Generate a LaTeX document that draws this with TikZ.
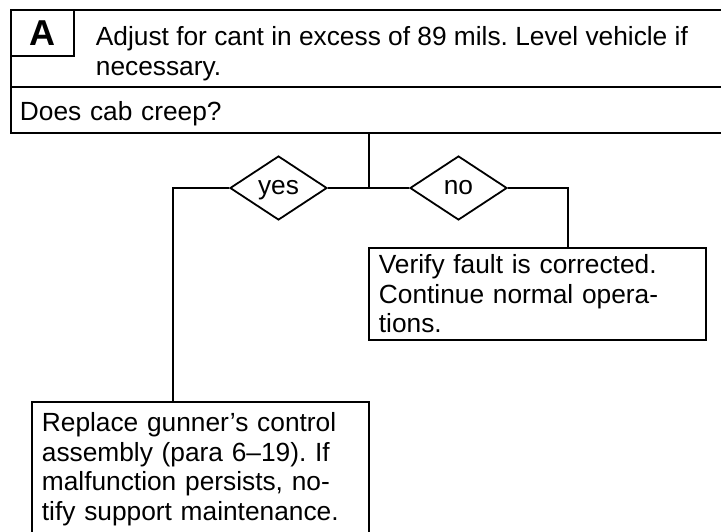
\documentclass[tikz,border=0pt]{standalone}
\usepackage{fontspec}
\setmainfont{Liberation Sans}
\usepackage{tikz}
\usetikzlibrary{positioning,shapes.geometric}
\frenchspacing

\begin{document}
\begin{tikzpicture}[x=1pt, y=-1pt,
    line width=1.8pt,
    cell/.style={draw, rectangle, anchor=north west, inner sep=0pt},
    body/.style={font=\fontsize{26.3}{29.5}\selectfont, align=left},
    txtbox/.style={draw, rectangle, anchor=north west, body, inner xsep=10pt},
    choice/.style={draw, diamond, minimum width=97pt, minimum height=64pt,
                   inner sep=0pt, text height=13.5pt, text depth=0pt,
                   font=\fontsize{26.3}{29.5}\selectfont},
    wire/.style={line width=1.8pt}
]
\useasboundingbox (0,0) rectangle (721,531);
\clip (0,0) rectangle (721,531);

\node[cell, minimum width=720pt, minimum height=77pt] (hdr) at (10,9) {};
\node[cell, minimum width=63pt, minimum height=46pt,
      font=\fontsize{36}{36}\bfseries\selectfont] (tagA) at (10,9) {A};
\node[body, anchor=north west, inner sep=0pt] (adjust) at (95,26)
    {Adjust for cant in excess of 89 mils. Level vehicle if\\necessary.};
\node[cell, minimum width=720pt, minimum height=46pt, body,
      text width=702pt, inner xsep=8pt, text height=24pt, text depth=2pt] (creep) at (10,86)
    {Does cab creep?};

\node[choice] (yes) at (278.5,188) {yes};
\node[choice] (no) at (458.5,188) {no};
\coordinate (fork) at (369,188);

\node[txtbox, text width=317pt, minimum height=92pt, inner ysep=7pt] (verify) at (368,247)
    {Verify fault is corrected.\\Continue normal opera-\\tions.};
\node[txtbox, text width=317pt, inner ysep=11pt] (fix) at (31,401)
    {Replace gunner’s control\\assembly (para 6--19). If\\malfunction persists, no-\\tify support maintenance.};

\draw[wire] (creep.south -| fork) -- (fork);
\draw[wire] (yes.east) -- (no.west);
\draw[wire] (yes.west) -| ([xshift=-27.5pt]fix.north);
\draw[wire] (no.east) -| ([xshift=30.5pt]verify.north);
\end{tikzpicture}
\end{document}
